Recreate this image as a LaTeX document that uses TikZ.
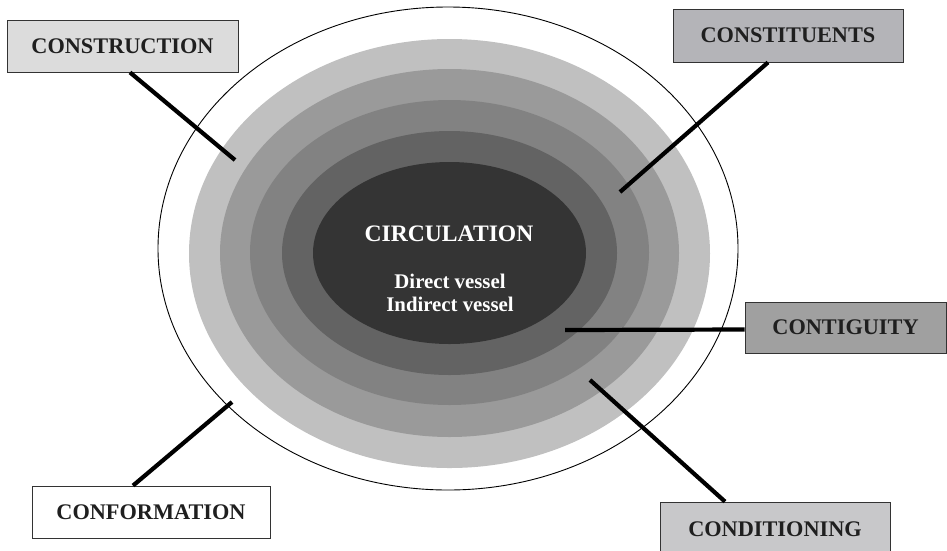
\documentclass[tikz,border=0pt]{standalone}
\usepackage{fontspec}
\setmainfont{Liberation Serif}
\definecolor{ringA}{HTML}{C0C0C0}
\definecolor{ringB}{HTML}{9A9A9A}
\definecolor{ringC}{HTML}{828282}
\definecolor{ringD}{HTML}{636363}
\definecolor{ringE}{HTML}{343434}
\definecolor{boxA}{HTML}{DCDCDC}
\definecolor{boxB}{HTML}{B4B4B8}
\definecolor{boxC}{HTML}{A0A0A0}
\definecolor{boxD}{HTML}{C8C8CA}
\begin{document}
\begin{tikzpicture}[x=1pt,y=-1pt,
  lbl/.style={draw=black!80, line width=0.8pt, inner sep=0pt, text=black!88,
    font=\fontsize{22.3}{25}\selectfont\bfseries},
  conn/.style={line width=4.2pt, black},
  intext/.style={text=white, inner sep=0pt, anchor=base, font=\bfseries}]
\useasboundingbox (0,0) rectangle (947,550);
\clip (0,0) rectangle (947,550);
\fill[white] (0,0) rectangle (947,550);
% outer ellipse and rings
\draw[line width=0.9pt] (448,248.5) ellipse [x radius=290pt, y radius=241.5pt];
\fill[ringA] (449.5,253.5) ellipse [x radius=260.5pt, y radius=214.5pt];
\fill[ringB] (449.5,253) ellipse [x radius=229.5pt, y radius=184pt];
\fill[ringC] (449.5,252.5) ellipse [x radius=199.5pt, y radius=152.5pt];
\fill[ringD] (449.5,253) ellipse [x radius=167.5pt, y radius=122pt];
\fill[ringE] (449.5,253) ellipse [x radius=136.5pt, y radius=91pt];
% centre text
\node[intext, font=\fontsize{23.6}{26}\selectfont\bfseries] (circ) at (449,241) {CIRCULATION};
\node[intext, font=\fontsize{20.8}{23}\selectfont\bfseries] (dv) at (450,288) {Direct vessel};
\node[intext, font=\fontsize{20.8}{23}\selectfont\bfseries] (iv) at (450,311) {Indirect vessel};
% label boxes
\node[lbl, fill=boxA, minimum width=231pt, minimum height=52pt] (construction) at (122.5,46) {CONSTRUCTION};
\node[lbl, fill=boxB, minimum width=230pt, minimum height=53pt] (constituents) at (788,35.5) {CONSTITUENTS};
\node[lbl, fill=boxC, minimum width=201pt, minimum height=51pt] (contiguity) at (845.5,327.5) {CONTIGUITY};
\node[lbl, fill=white, minimum width=238pt, minimum height=52pt] (conformation) at (151,512) {CONFORMATION};
\node[lbl, fill=boxD, minimum width=230pt, minimum height=54pt] (conditioning) at (775,529) {CONDITIONING};
% connector end points inside the rings
\coordinate (p1) at (235,160);
\coordinate (p2) at (620,192);
\coordinate (p3) at (565,330);
\coordinate (p4) at (590,380);
\coordinate (p5) at (232,402);
% connectors
\draw[conn] ([xshift=7.5pt]construction.south) -- (p1);
\draw[conn] ([xshift=-20pt]constituents.south) -- (p2);
\draw[conn] (p3) -- ([yshift=-2pt]contiguity.west);
\draw[conn] (p4) -- ([xshift=-50pt]conditioning.north);
\draw[conn] (p5) -- ([xshift=-18pt]conformation.north);
\end{tikzpicture}
\end{document}
